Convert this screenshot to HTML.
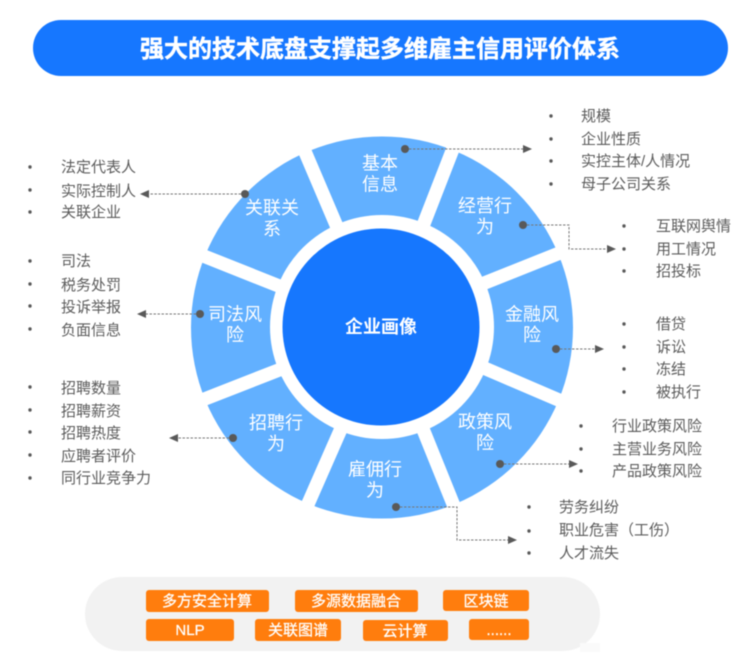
<!DOCTYPE html>
<html lang="zh"><head><meta charset="utf-8"><title>企业画像</title>
<style>
html,body{margin:0;padding:0;background:#fff}
svg{display:block;font-family:"Liberation Sans","Noto Sans CJK SC",sans-serif;filter:blur(.4px)}
.i{font-size:15px;fill:#5c5c5c}
.s{font-size:18px;fill:#fff;text-anchor:middle}
.p{font-size:15px;fill:#fff;text-anchor:middle;stroke:#fff;stroke-width:.25}
.d{fill:none;stroke:#777;stroke-width:1;stroke-dasharray:2.5 1.5}
</style></head><body>
<svg width="753" height="672" viewBox="0 0 753 672" xmlns="http://www.w3.org/2000/svg">
<rect x="33" y="20" width="695" height="56" rx="28" fill="#1677ff"/>
<text x="380" y="57" font-size="24" font-weight="700" fill="#fff" stroke="#fff" stroke-width=".4" text-anchor="middle">强大的技术底盘支撑起多维雇主信用评价体系</text>

<circle cx="382" cy="327.5" r="191" fill="#62b0ff"/>
<g stroke="#fff" stroke-width="13.5">
<line x1="421" y1="231" x2="455.4" y2="142.6"/>
<line x1="477" y1="286" x2="566" y2="250.5"/>
<line x1="477" y1="365" x2="565" y2="402.7"/>
<line x1="420.5" y1="423" x2="456" y2="511"/>
<line x1="344" y1="422" x2="304.7" y2="511.5"/>
<line x1="285" y1="367.6" x2="197" y2="402"/>
<line x1="284" y1="288" x2="196" y2="253"/>
<line x1="339.5" y1="232.7" x2="303" y2="147"/>
</g>
<circle cx="382" cy="327" r="112" fill="#fff"/>
<circle cx="381" cy="327" r="98.5" fill="#1677fe"/>
<text x="381" y="333" font-size="18" font-weight="700" fill="#fff" text-anchor="middle">企业画像</text>

<text class="s" x="380" y="169.5">基本</text><text class="s" x="380" y="190.5">信息</text>
<text class="s" x="485" y="212">经营行</text><text class="s" x="485" y="233">为</text>
<text class="s" x="532" y="320.5">金融风</text><text class="s" x="532" y="341">险</text>
<text class="s" x="485" y="428">政策风</text><text class="s" x="485" y="449">险</text>
<text class="s" x="375" y="475.5">雇佣行</text><text class="s" x="375" y="496.5">为</text>
<text class="s" x="276" y="429">招聘行</text><text class="s" x="276" y="450">为</text>
<text class="s" x="235" y="320.5">司法风</text><text class="s" x="235" y="341">险</text>
<text class="s" x="272" y="214">关联关</text><text class="s" x="272" y="235">系</text>

<g class="d">
<path class="d" d="M405 149H524"/>
<path class="d" d="M523 225H569V249H608"/>
<path class="d" d="M556 349H596"/>
<path class="d" d="M500 464H570"/>
<path class="d" d="M396 507H457V540H509"/>
<path class="d" d="M233 438H177"/>
<path class="d" d="M200 314H145"/>
<path class="d" d="M245 194H148"/>
</g>
<g fill="#595959">
<circle cx="405" cy="149" r="4"/><circle cx="523" cy="225" r="4"/><circle cx="556" cy="349" r="4"/><circle cx="500" cy="464" r="4"/><circle cx="396" cy="507" r="4"/><circle cx="233" cy="438" r="4"/><circle cx="200" cy="314" r="4"/><circle cx="245" cy="194" r="4"/>
<path d="M532 149l-9-4v8z"/><path d="M616 249l-9-4v8z"/><path d="M604 349l-9-4v8z"/><path d="M578 464l-9-4v8z"/><path d="M517 540l-9-4v8z"/>
<path d="M169 438l9-4v8z"/><path d="M137 314l9-4v8z"/><path d="M140 194l9-4v8z"/>
<g>
<circle cx="30" cy="167" r="1.7"/><circle cx="30" cy="190" r="1.7"/><circle cx="30" cy="212" r="1.7"/>
<circle cx="30" cy="261" r="1.7"/><circle cx="30" cy="284" r="1.7"/><circle cx="30" cy="306" r="1.7"/><circle cx="30" cy="329" r="1.7"/>
<circle cx="30" cy="387" r="1.7"/><circle cx="30" cy="410" r="1.7"/><circle cx="30" cy="432" r="1.7"/><circle cx="30" cy="455" r="1.7"/><circle cx="30" cy="478" r="1.7"/>
<circle cx="551" cy="116" r="1.7"/><circle cx="551" cy="139" r="1.7"/><circle cx="551" cy="161" r="1.7"/><circle cx="551" cy="184" r="1.7"/>
<circle cx="624" cy="226" r="1.7"/><circle cx="624" cy="249" r="1.7"/><circle cx="624" cy="271" r="1.7"/>
<circle cx="624" cy="324" r="1.7"/><circle cx="624" cy="347" r="1.7"/><circle cx="624" cy="369" r="1.7"/><circle cx="624" cy="392" r="1.7"/>
<circle cx="581" cy="426" r="1.7"/><circle cx="581" cy="449" r="1.7"/><circle cx="581" cy="471" r="1.7"/>
<circle cx="529" cy="507" r="1.7"/><circle cx="529" cy="531" r="1.7"/><circle cx="529" cy="553" r="1.7"/>
</g></g>

<text class="i" x="61" y="172">法定代表人</text><text class="i" x="61" y="196">实际控制人</text><text class="i" x="61" y="217">关联企业</text>
<text class="i" x="61" y="266">司法</text><text class="i" x="61" y="290">税务处罚</text><text class="i" x="61" y="312">投诉举报</text><text class="i" x="61" y="335">负面信息</text>
<text class="i" x="61" y="393">招聘数量</text><text class="i" x="61" y="416">招聘薪资</text><text class="i" x="61" y="438">招聘热度</text><text class="i" x="61" y="461">应聘者评价</text><text class="i" x="61" y="483">同行业竞争力</text>
<text class="i" x="581" y="121">规模</text><text class="i" x="581" y="144">企业性质</text><text class="i" x="581" y="166">实控主体/人情况</text><text class="i" x="581" y="189">母子公司关系</text>
<text class="i" x="656" y="231">互联网舆情</text><text class="i" x="656" y="254">用工情况</text><text class="i" x="656" y="276">招投标</text>
<text class="i" x="656" y="329">借贷</text><text class="i" x="656" y="352">诉讼</text><text class="i" x="656" y="374">冻结</text><text class="i" x="656" y="397">被执行</text>
<text class="i" x="612" y="431">行业政策风险</text><text class="i" x="612" y="454">主营业务风险</text><text class="i" x="612" y="476">产品政策风险</text>
<text class="i" x="559" y="512">劳务纠纷</text><text class="i" x="559" y="535">职业危害（工伤）</text><text class="i" x="559" y="558">人才流失</text>

<rect x="85" y="577" width="515" height="74" rx="37" fill="#f2f2f2"/>
<rect x="580" y="643" width="20" height="9" fill="#fafafa"/>
<g fill="#ff7d0d">
<rect x="146" y="590" width="123" height="22" rx="3"/><rect x="295" y="590" width="123" height="22" rx="3"/><rect x="443" y="590" width="86" height="21" rx="3"/>
<rect x="146" y="619" width="88" height="22" rx="3"/><rect x="255" y="619" width="86" height="22" rx="3"/><rect x="363" y="620" width="85" height="21" rx="3"/><rect x="469" y="619" width="60" height="21" rx="3"/>
</g>
<text class="p" x="207" y="606">多方安全计算</text><text class="p" x="356" y="606">多源数据融合</text><text class="p" x="486" y="606">区块链</text>
<text class="p" x="190" y="635">NLP</text><text class="p" x="298" y="635">关联图谱</text><text class="p" x="405" y="636">云计算</text><text class="p" x="499" y="635">......</text>
</svg>
</body></html>
